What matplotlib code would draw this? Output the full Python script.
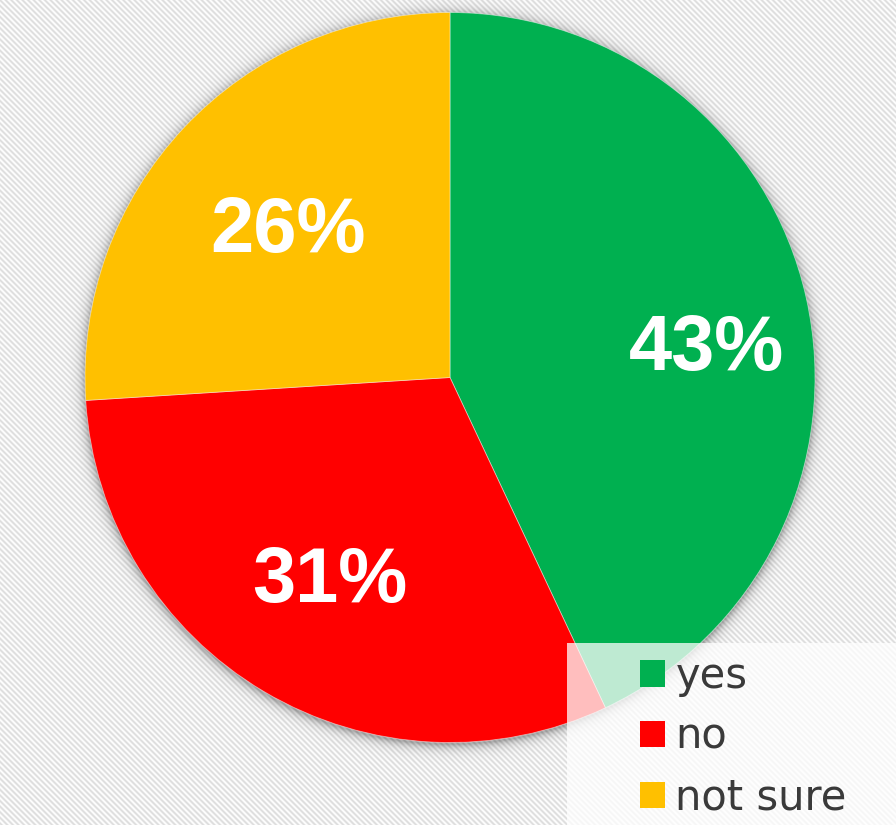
import numpy as np
import matplotlib
matplotlib.use("Agg")
import matplotlib.pyplot as plt
from matplotlib.patches import Patch, Rectangle

# ---- data ----
categories = ["yes", "no", "not sure"]
values = [43, 31, 26]
colors = ["#00B050", "#FF0000", "#FFC000"]

# ---- style constants ----
W, H, DPI = 896, 825, 100
CX, CY, R = 450.0, 377.5, 365.0          # pie centre / radius in pixels
label_dist = [0.71, 0.633, 0.61]
label_shift = [-5.0, -0.7, 0.0]

fig = plt.figure(figsize=(W / DPI, H / DPI), dpi=DPI)

# background: diagonal light stripes + soft shadow around the pie
yy, xx = np.mgrid[0:H, 0:W] + 0.5
period = 5.6
stripe = 0.5 + 0.5 * np.cos(2 * np.pi * (xx - yy) / period)
gray = 255 - 34 * stripe
d = np.hypot(xx - CX, yy - (CY + 2.0))
shadow = np.where(d > R, 0.30 * np.exp(-(d - R) / 5.0), 0.30)
gray = gray * (1 - shadow)
img = np.clip(np.dstack([gray, gray, gray]) / 255.0, 0, 1)
bg = fig.add_axes([0, 0, 1, 1])
bg.imshow(img, extent=(0, W, H, 0), aspect="auto", interpolation="nearest")
bg.set_xlim(0, W)
bg.set_ylim(H, 0)
bg.axis("off")

# pie axes sized exactly to the circle
ax = fig.add_axes([(CX - R) / W, (H - CY - R) / H, 2 * R / W, 2 * R / H])
wedges, _ = ax.pie(values, colors=colors, startangle=90, counterclock=False,
                   radius=1.0,
                   wedgeprops=dict(edgecolor=(1, 1, 1, 0.5), linewidth=0.6))
ax.set_xlim(-1, 1)
ax.set_ylim(-1, 1)
ax.set_aspect("equal")
ax.axis("off")

for w, v, rd, sh in zip(wedges, values, label_dist, label_shift):
    mid = np.deg2rad((w.theta1 + w.theta2) / 2 + sh)
    ax.text(rd * np.cos(mid), rd * np.sin(mid) + 0.005, f"{v}%", ha="center",
            va="center_baseline", fontsize=56, fontweight="bold",
            color="white", family="Liberation Sans")

# legend box (semi transparent white)
fig.patches.append(Rectangle((567 / W, 0), (W - 567) / W, (H - 643) / H,
                             transform=fig.transFigure, facecolor="white",
                             alpha=0.75, edgecolor="none", zorder=5))
handles = [Patch(facecolor=c, edgecolor="none") for c in colors]
leg = fig.legend(handles, categories, loc="upper left",
                 bbox_to_anchor=(640 / W, 1 - 655 / H),
                 bbox_transform=fig.transFigure, frameon=False,
                 prop=dict(family="DejaVu Sans", size=30),
                 labelcolor="#3a3a3a", handlelength=0.6, handleheight=0.6,
                 handletextpad=0.25, labelspacing=0.45, borderpad=0,
                 borderaxespad=0)
leg.set_zorder(6)

fig.savefig("out.png", dpi=DPI)
